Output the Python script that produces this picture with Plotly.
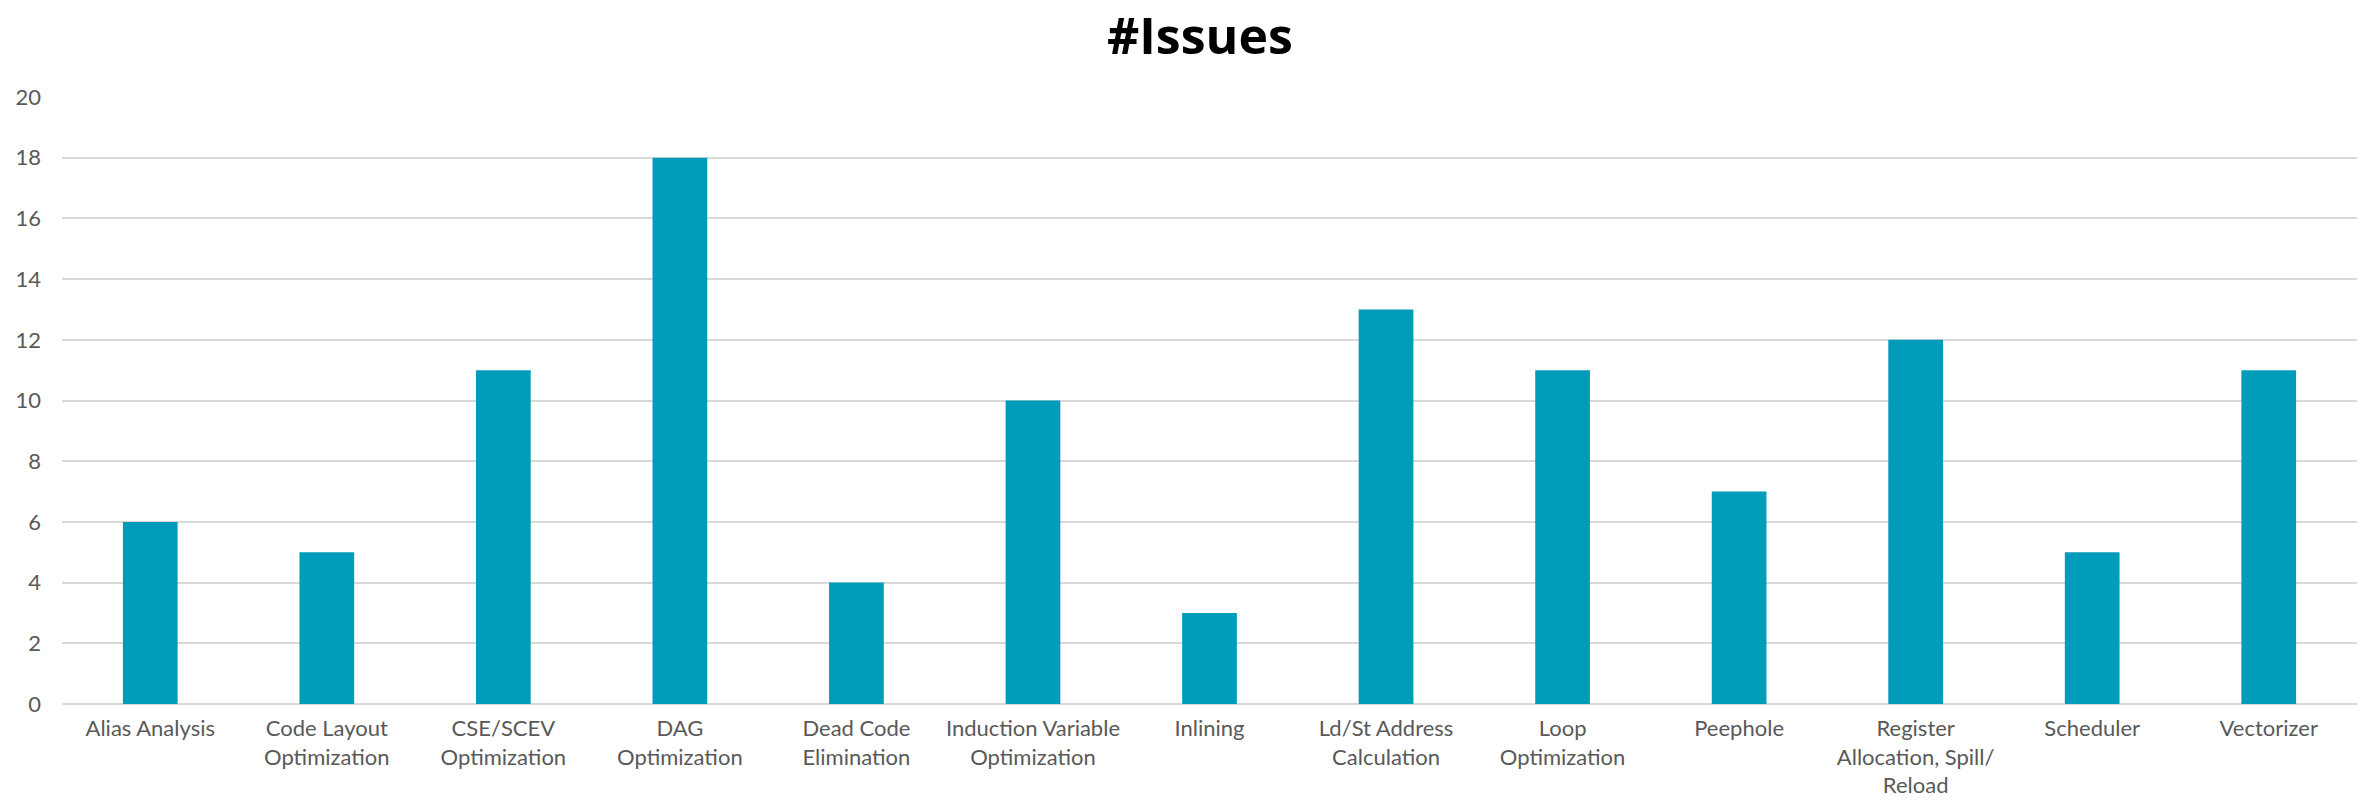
import plotly.graph_objects as go

categories = [
    "Alias Analysis",
    "Code Layout<br>Optimization",
    "CSE/SCEV<br>Optimization",
    "DAG<br>Optimization",
    "Dead Code<br>Elimination",
    "Induction Variable<br>Optimization",
    "Inlining",
    "Ld/St Address<br>Calculation",
    "Loop<br>Optimization",
    "Peephole",
    "Register<br>Allocation, Spill/<br>Reload",
    "Scheduler",
    "Vectorizer",
]
issues = [6, 5, 11, 18, 4, 10, 3, 13, 11, 7, 12, 5, 11]
y_ticks = [0, 2, 4, 6, 8, 10, 12, 14, 16, 18, 20]

BAR_COLOR = "#009CBA"
TEXT_COLOR = "#595959"
GRID_COLOR = "#D9D9D9"

PLOT_TOP = 97
PLOT_BOTTOM = 99
PLOT_H = 803 - PLOT_TOP - PLOT_BOTTOM

fig = go.Figure(
    go.Bar(
        x=categories,
        y=issues,
        marker=dict(color=BAR_COLOR, line=dict(width=0)),
        hoverinfo="x+y",
    )
)

fig.update_layout(
    width=2369,
    height=803,
    margin=dict(l=62, r=12, t=PLOT_TOP, b=PLOT_BOTTOM, autoexpand=False),
    paper_bgcolor="white",
    plot_bgcolor="white",
    bargap=0.69,
    showlegend=False,
    font=dict(family="Lato", size=22, color=TEXT_COLOR),
)

# Chart heading placed above the plotting area
fig.add_annotation(
    text="<b>#Issues</b>",
    xref="paper",
    yref="paper",
    x=0.496,
    y=1 + 62 / PLOT_H,
    xanchor="center",
    yanchor="middle",
    showarrow=False,
    font=dict(family="Open Sans", size=50, color="black"),
)

fig.update_xaxes(
    automargin=False,
    showgrid=False,
    showline=False,
    zeroline=False,
    ticks="",
    tickangle=0,
    ticklabelstandoff=9,
    tickfont=dict(family="Lato", size=22, color=TEXT_COLOR),
)

fig.update_yaxes(
    automargin=False,
    range=[0, 20],
    tickvals=y_ticks,
    showgrid=True,
    gridcolor=GRID_COLOR,
    gridwidth=1.5,
    zeroline=True,
    zerolinecolor=GRID_COLOR,
    zerolinewidth=1.5,
    showline=False,
    ticks="",
    ticklabelstandoff=20,
    tickfont=dict(family="Lato", size=22, color=TEXT_COLOR),
)

fig.write_html("out.html")
